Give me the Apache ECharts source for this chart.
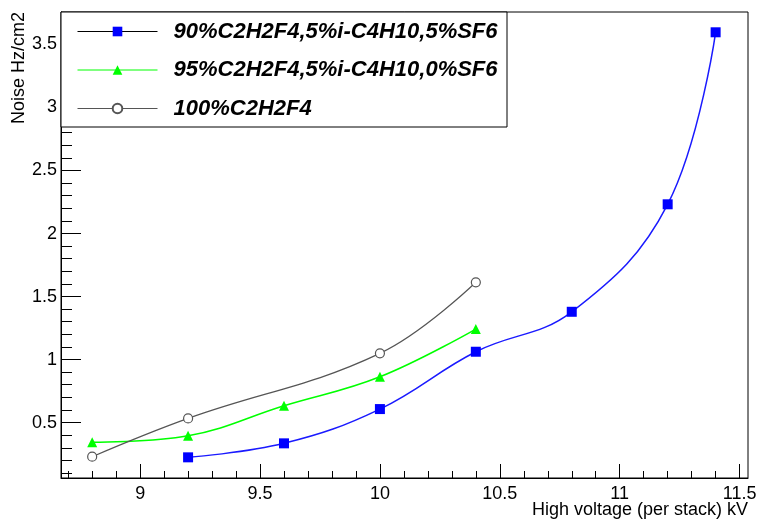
<!DOCTYPE html>
<html>
<head>
<meta charset="utf-8">
<script src="https://cdn.jsdelivr.net/npm/echarts@6/dist/echarts.min.js"></script>
<style>html,body{margin:0;padding:0;background:#fff;}#c{width:757px;height:520px;}</style>
</head>
<body>
<div id="c"></div>
<script>
const seriesNames = ['90%C2H2F4,5%i-C4H10,5%SF6', '95%C2H2F4,5%i-C4H10,0%SF6', '100%C2H2F4'];
const xAxisTitle = 'High voltage (per stack) kV';
const yAxisTitle = 'Noise Hz/cm2';
const blueX = [9.2, 9.6, 10.0, 10.4, 10.8, 11.2, 11.4];
const blueY = [0.224, 0.335, 0.607, 1.062, 1.379, 2.232, 3.597];
const greenX = [8.8, 9.2, 9.6, 10.0, 10.4];
const greenY = [0.343, 0.395, 0.633, 0.863, 1.242];
const grayX = [8.8, 9.2, 10.0, 10.4];
const grayY = [0.229, 0.533, 1.049, 1.613];
const xTickLabels = [9, 9.5, 10, 10.5, 11, 11.5];
const yTickLabels = [0.5, 1, 1.5, 2, 2.5, 3, 3.5];
const xMinorTicks = [];
for (let i = 87; i <= 115; i++) xMinorTicks.push(i / 10);
const yMinorTicks = [];
for (let i = 1; i <= 37; i++) yMinorTicks.push(i / 10);

const pairs = (xs, ys) => xs.map((x, i) => [x, ys[i]]);
const FONT = 'Liberation Sans';
const xr = [8.67, 11.535], yr = [0.06, 3.758];

const chart = echarts.init(document.getElementById('c'), null, {renderer: 'canvas'});
chart.setOption({
  animation: false,
  backgroundColor: '#fff',
  grid: {left: 61, right: 9, top: 12, bottom: 42, show: true, borderColor: '#000', borderWidth: 1,
         containLabel: false, outerBoundsMode: 'none'},
  xAxis: [{
    type: 'value', min: xr[0], max: xr[1],
    axisLine: {show: true, lineStyle: {color: '#000'}},
    axisTick: {show: true, inside: true, length: 14, customValues: xTickLabels, lineStyle: {color: '#000'}},
    axisLabel: {customValues: xTickLabels, color: '#000', fontSize: 18, fontFamily: FONT, margin: 7},
    splitLine: {show: false}
  }, {
    type: 'value', min: xr[0], max: xr[1], position: 'bottom',
    axisLine: {show: false},
    axisTick: {show: true, inside: true, length: 7, customValues: xMinorTicks, lineStyle: {color: '#000'}},
    axisLabel: {show: false}, splitLine: {show: false}
  }],
  yAxis: [{
    type: 'value', min: yr[0], max: yr[1],
    axisLine: {show: true, lineStyle: {color: '#000'}},
    axisTick: {show: true, inside: true, length: 20, customValues: yTickLabels, lineStyle: {color: '#000'}},
    axisLabel: {customValues: yTickLabels, color: '#000', fontSize: 18, fontFamily: FONT, margin: 4},
    splitLine: {show: false}
  }, {
    type: 'value', min: yr[0], max: yr[1], position: 'left',
    axisLine: {show: false},
    axisTick: {show: true, inside: true, length: 11, customValues: yMinorTicks, lineStyle: {color: '#000'}},
    axisLabel: {show: false}, splitLine: {show: false}
  }],
  graphic: [
    {type: 'rect', z: 50, shape: {x: 61, y: 12, width: 446, height: 115},
     style: {fill: '#fff', stroke: '#000', lineWidth: 1}},
    {type: 'text', z: 50, x: 19, y: 12, rotation: Math.PI / 2,
     style: {text: yAxisTitle, align: 'right', verticalAlign: 'middle', fontSize: 18, fontFamily: FONT, fill: '#000'}},
    {type: 'text', z: 50, x: 748, y: 510,
     style: {text: xAxisTitle, align: 'right', verticalAlign: 'middle', fontSize: 18, fontFamily: FONT, fill: '#000'}}
  ],
  legend: {
    z: 60, orient: 'vertical', left: 61, top: 12,
    padding: [7, 8, 6, 16], itemGap: 13.5, itemWidth: 80, itemHeight: 12,
    selectedMode: false,
    textStyle: {fontSize: 22, fontWeight: 'bold', fontStyle: 'italic', fontFamily: FONT, color: '#000', lineHeight: 25, padding: [0, 0, 0, 11]},
    data: [
      {name: seriesNames[0], lineStyle: {color: '#000', width: 1}},
      {name: seriesNames[1], lineStyle: {color: '#00ff00', width: 1}},
      {name: seriesNames[2], lineStyle: {color: '#555', width: 1}}
    ]
  },
  series: [
    {name: seriesNames[0], type: 'line', smooth: 0.4, data: pairs(blueX, blueY),
     symbol: 'rect', symbolSize: 10, lineStyle: {color: '#1a1aff', width: 1.5},
     itemStyle: {color: '#0000ff'}},
    {name: seriesNames[1], type: 'line', smooth: 0.4, data: pairs(greenX, greenY),
     symbol: 'triangle', symbolSize: 10, lineStyle: {color: '#00ff00', width: 1.5},
     itemStyle: {color: '#00ff00'}},
    {name: seriesNames[2], type: 'line', smooth: 0.4, data: pairs(grayX, grayY),
     symbol: 'circle', symbolSize: 9, lineStyle: {color: '#555', width: 1.2},
     itemStyle: {color: '#fff', borderColor: '#555', borderWidth: 1.2}}
  ]
});
</script>
</body>
</html>
